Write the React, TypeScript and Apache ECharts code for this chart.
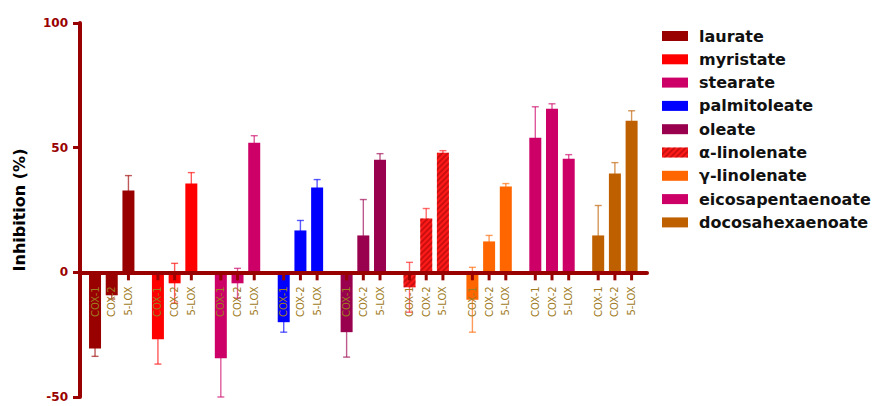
import React, { useEffect, useRef } from "react";
import * as echarts from "echarts";

const ACIDS = [
  "laurate",
  "myristate",
  "stearate",
  "palmitoleate",
  "oleate",
  "α-linolenate",
  "γ-linolenate",
  "eicosapentaenoate",
  "docosahexaenoate",
];
const ENZYMES = ["COX-1", "COX-2", "5-LOX"];
const COLORS = [
  "#990000",
  "#FF0000",
  "#CC0066",
  "#0000FF",
  "#99004D",
  "#FF1A1A",
  "#FF6600",
  "#CC0066",
  "#BF6000",
];
const HATCHED = [false, false, false, false, false, true, false, false, false];

const cox1Values = [-30.5, -26.8, -34.5, -20, -24, -6, -11, 54, 14.8];
const cox2Values = [-9.2, -4.4, -4.4, 16.8, 14.8, 21.6, 12.4, 65.6, 39.6];
const lox5Values = [32.8, 35.6, 52, 34, 45.2, 48, 34.4, 45.6, 60.8];
const cox1Err = [3.2, 10, 15.5, 4, 10, 10, 13, 12.4, 12];
const cox2Err = [1.5, 8, 6, 4, 14.4, 4, 2.4, 2, 4.4];
const lox5Err = [6, 4.4, 2.8, 3.2, 2.4, 0.8, 1.2, 1.6, 4];

const Y_TICKS = [-50, 0, 50, 100];

const GROUP_STEP = 3.766;
const AXIS_RED = "#990000";
const LABEL_GOLD = "#9E7B22";
const FONT = '"DejaVu Sans", Verdana, sans-serif';

export default function App() {
  const ref = useRef<HTMLDivElement>(null);

  useEffect(() => {
    if (!ref.current) return;
    const chart = echarts.init(ref.current, undefined, { renderer: "svg" });

    const valuesByEnzyme = [cox1Values, cox2Values, lox5Values];
    const errByEnzyme = [cox1Err, cox2Err, lox5Err];
    const pos = (g: number, b: number) => g * GROUP_STEP + b;

    const barSeries = ACIDS.map((name, g) => ({
      name,
      type: "bar",
      barWidth: 12,
      barGap: "-100%",
      z: 2,
      itemStyle: {
        color: COLORS[g],
        decal: HATCHED[g]
          ? {
              symbol: "rect",
              symbolSize: 1,
              color: "rgba(140,0,0,0.45)",
              dashArrayX: [1, 0],
              dashArrayY: [2, 2],
              rotation: -Math.PI / 4,
            }
          : undefined,
      },
      data: ENZYMES.map((_, b) => [pos(g, b), valuesByEnzyme[b][g]]),
    }));

    const errData: number[][] = [];
    const labelData: number[][] = [];
    ACIDS.forEach((_, g) => {
      ENZYMES.forEach((__, b) => {
        errData.push([pos(g, b), valuesByEnzyme[b][g], errByEnzyme[b][g], g]);
        labelData.push([pos(g, b), 0, b]);
      });
    });

    const errorSeries = {
      type: "custom",
      name: "err",
      z: 1,
      silent: true,
      encode: { x: 0, y: 1 },
      data: errData,
      renderItem: (params: any, api: any) => {
        const x = api.value(0);
        const v = api.value(1);
        const e = api.value(2);
        const g = api.value(3);
        const top = api.coord([x, v + e]);
        const bot = api.coord([x, v - e]);
        const c = 3.5;
        const style = { stroke: COLORS[g], lineWidth: 1.4, opacity: 0.65 };
        return {
          type: "group",
          children: [
            { type: "line", shape: { x1: top[0], y1: top[1], x2: bot[0], y2: bot[1] }, style },
            { type: "line", shape: { x1: top[0] - c, y1: top[1], x2: top[0] + c, y2: top[1] }, style },
            { type: "line", shape: { x1: bot[0] - c, y1: bot[1], x2: bot[0] + c, y2: bot[1] }, style },
          ],
        };
      },
    };

    const labelSeries = {
      type: "custom",
      name: "labels",
      z: 20,
      silent: true,
      encode: { x: 0, y: 1 },
      data: labelData,
      renderItem: (params: any, api: any) => {
        const x = api.value(0);
        const b = api.value(2);
        const p = api.coord([x, 0]);
        return {
          type: "group",
          children: [
            {
              type: "rect",
              shape: { x: p[0] - 1.5, y: p[1], width: 3, height: 8 },
              style: { fill: AXIS_RED },
            },
            {
              type: "text",
              x: p[0],
              y: p[1] + 14,
              rotation: Math.PI / 2,
              style: {
                text: ENZYMES[b],
                align: "right",
                verticalAlign: "middle",
                fill: LABEL_GOLD,
                fontSize: 10,
                fontFamily: FONT,
              },
            },
          ],
        };
      },
    };

    chart.setOption({
      animation: false,
      grid: { left: 80, right: 228, top: 23, bottom: 9, containLabel: false },
      legend: {
        data: ACIDS,
        orient: "vertical",
        left: 662,
        top: 28,
        padding: 0,
        itemWidth: 26,
        itemHeight: 10,
        itemGap: 7.3,
        icon: "rect",
        selectedMode: false,
        textStyle: {
          fontFamily: FONT,
          fontSize: 16,
          fontWeight: "bold",
          color: "#111",
          lineHeight: 16,
          padding: [0, 0, 0, 6],
        },
      },
      xAxis: {
        type: "value",
        min: -0.9,
        max: 33.05,
        z: 10,
        axisLine: { show: true, onZero: true, lineStyle: { color: AXIS_RED, width: 4 } },
        axisTick: { show: false },
        axisLabel: { show: false },
        splitLine: { show: false },
      },
      yAxis: {
        type: "value",
        min: Y_TICKS[0],
        max: Y_TICKS[Y_TICKS.length - 1],
        interval: 50,
        z: 10,
        name: "Inhibition (%)",
        nameLocation: "middle",
        nameGap: 53,
        nameTextStyle: { fontFamily: FONT, fontSize: 16, fontWeight: "bold", color: "#000" },
        axisLine: { show: true, onZero: false, lineStyle: { color: AXIS_RED, width: 4 } },
        axisTick: { show: true, inside: false, length: 7, lineStyle: { color: AXIS_RED, width: 3 } },
        axisLabel: {
          margin: 12,
          fontFamily: FONT,
          fontSize: 12,
          fontWeight: "bold",
          color: AXIS_RED,
        },
        splitLine: { show: false },
      },
      series: [errorSeries, ...barSeries, labelSeries],
    } as any);

    return () => chart.dispose();
  }, []);

  return (
    <div
      ref={ref}
      style={{ position: "fixed", left: 0, top: 0, width: 875, height: 406, background: "#fff" }}
    />
  );
}
